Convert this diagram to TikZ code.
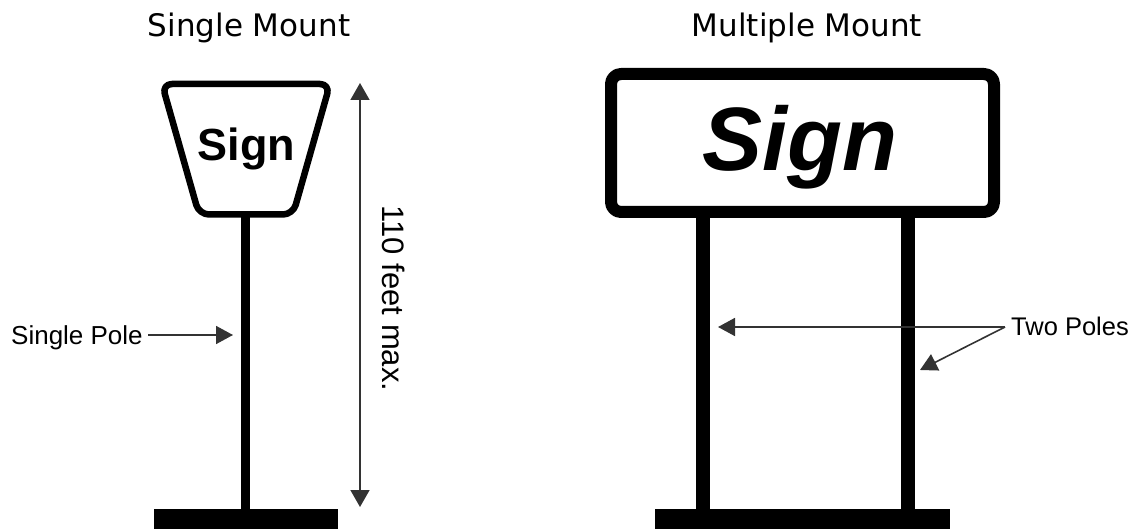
\documentclass[tikz,border=0pt]{standalone}
\usepackage{fontspec}
\setmainfont{Liberation Sans}
\newfontfamily\headfont{DejaVu Sans}
\usetikzlibrary{arrows.meta}

\tikzset{
  heading/.style={font=\headfont\fontsize{31}{31}\selectfont, inner sep=0pt, anchor=base},
  label/.style={font=\fontsize{26}{26}\selectfont, inner sep=0pt},
  signtext/.style={inner sep=0pt, anchor=base},
  outline/.style={draw=black, line join=round, fill=white},
  solid black/.style={fill=black, draw=none},
  pointer/.style={draw=black!80, line width=1.6pt,
    -{Triangle[length=17pt, width=18pt]}},
  dimension/.style={draw=black!80, line width=1.6pt,
    {Triangle[length=17pt, width=19pt]}-{Triangle[length=17pt, width=19pt]}},
}

\begin{document}
\begin{tikzpicture}[x=1pt, y=-1pt]
  % canvas
  \fill[white] (0,0) rectangle (1138,529);
  \useasboundingbox (0,0) rectangle (1138,529);

  % ---------- single mount ----------
  \node[heading] (hsingle) at (249,37) {Single Mount};

  \fill[solid black] (241.25,214) rectangle (249.75,510);
  \fill[solid black] (154,509) rectangle (337.5,530);
  \draw[outline, line width=6.5pt, rounded corners=10pt]
    (162,84) -- (330,84) -- (293,214.5) -- (199,214.5) -- cycle;
  \node[signtext, font=\bfseries\fontsize{45}{45}\selectfont] (signA) at (246.5,160.6) {Sign};

  \node[label, anchor=base west] (lsingle) at (11,344.3) {Single Pole};
  \coordinate (ls from) at (148,335);
  \coordinate (ls to) at (233,335);
  \draw[pointer] (ls from) -- (ls to);

  % height dimension
  \coordinate (dim top) at (360,83);
  \coordinate (dim bot) at (360,507);
  \draw[dimension] (dim top) -- (dim bot);
  \node[label, font=\fontsize{31}{31}\selectfont, rotate=-90, anchor=base] (dimtext) at (382,298.5) {110 feet max.};

  % ---------- multiple mount ----------
  \node[heading] (hmulti) at (807,37) {Multiple Mount};

  \fill[solid black] (695.75,212) rectangle (710.25,510);
  \fill[solid black] (900.75,212) rectangle (915.25,510);
  \fill[solid black] (655,509) rectangle (950,530);
  \draw[outline, line width=12pt, rounded corners=10pt] (611,74) rectangle (994,212);
  \node[signtext, font=\bfseries\itshape\fontsize{90}{90}\selectfont] (signB) at (800,170.5) {Sign};

  \node[label, font=\fontsize{25.5}{25.5}\selectfont, anchor=base west] (ltwo) at (1011,336) {Two Poles};
  \coordinate (lt from) at (1005,327);
  \coordinate (lt left) at (718,327);
  \coordinate (lt right) at (920,370);
  \draw[pointer] (lt from) -- (lt left);
  \draw[pointer] (lt from) -- (lt right);
\end{tikzpicture}
\end{document}
